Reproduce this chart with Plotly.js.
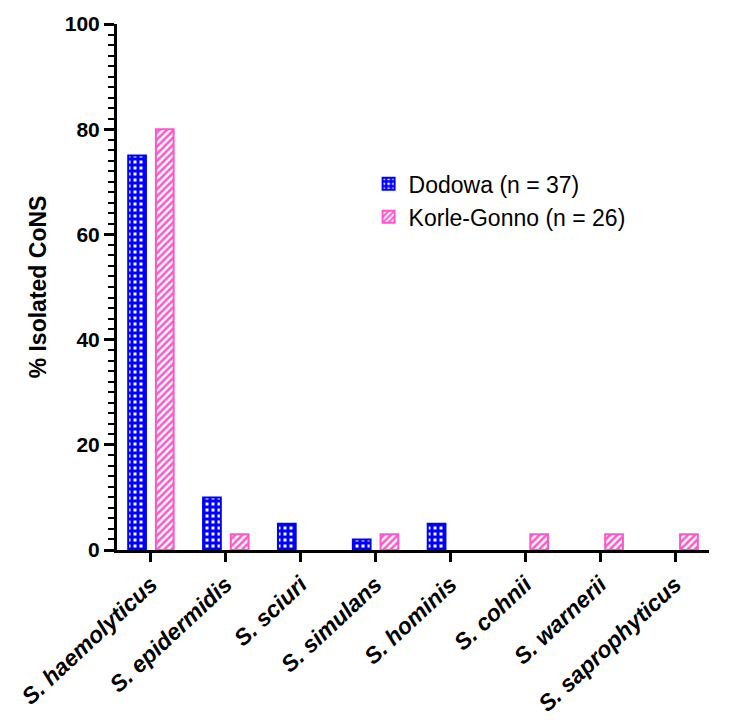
<!DOCTYPE html>
<html>
<head>
<meta charset="utf-8">
<script src="https://cdn.plot.ly/plotly-3.0.1.min.js"></script>
<style>
  html, body { margin: 0; padding: 0; background: #fff; }
  #chart { width: 734px; height: 722px; }
</style>
</head>
<body>
<div id="chart"></div>
<script>
const species = ["S. haemolyticus", "S. epidermidis", "S. sciuri", "S. simulans", "S. hominis", "S. cohnii", "S. warnerii", "S. saprophyticus"]
const dodowa = [75, 10, 5, 2, 5, 0, 0, 0]
const korleGonno = [80, 3, 0, 3, 0, 3, 3, 3]
const seriesNames = ["Dodowa (n = 37)", "Korle-Gonno (n = 26)"]

const labels = species.map(s => `<b><i>${s}</i></b>`)
const FONT = 'Liberation Sans, Arial, sans-serif'

// zero bars would otherwise leave a stray outline on the axis
const outlineWidths = vals => vals.map(v => v > 0 ? 2 : 0)

const dodowaTrace = {
    type: 'bar',
    name: seriesNames[0],
    x: labels,
    y: dodowa,
    marker: {
        color: '#ffffff',
        line: { color: '#0000ff', width: outlineWidths(dodowa) },
        pattern: { shape: '+', fgcolor: '#0000ff', bgcolor: '#ffffff', size: 6, solidity: 0.75 }
    },
    hoverinfo: 'none'
};

const korleTrace = {
    type: 'bar',
    name: seriesNames[1],
    x: labels,
    y: korleGonno,
    marker: {
        color: '#ffffff',
        line: { color: '#ff55cc', width: outlineWidths(korleGonno) },
        pattern: { shape: '/', fgcolor: '#ff55cc', bgcolor: '#ffffff', size: 5, solidity: 0.5 }
    },
    hoverinfo: 'none'
};

var layout = {
    width: 734,
    height: 722,
    margin: { l: 117, r: 25, t: 24, b: 172 },
    paper_bgcolor: '#ffffff',
    plot_bgcolor: '#ffffff',
    barmode: 'group',
    bargap: 0.26,
    bargroupgap: 0.36,
    showlegend: true,
    legend: {
        x: 0.425,
        y: 0.737,
        xanchor: 'left',
        yanchor: 'top',
        font: { family: FONT, size: 23, color: '#000' },
        bgcolor: 'rgba(0,0,0,0)'
    },
    font: { family: FONT, color: '#000' },
    xaxis: {
        type: 'category',
        range: [-0.453, 7.453],
        automargin: false,
        showline: true,
        linecolor: '#000',
        linewidth: 3,
        ticks: 'outside',
        ticklen: 9,
        tickwidth: 3,
        tickcolor: '#000',
        tickangle: -43,
        tickfont: { size: 23, family: FONT, color: '#000' },
        showgrid: false,
        zeroline: false,
        fixedrange: true
    },
    yaxis: {
        range: [0, 100],
        dtick: 20,
        automargin: false,
        showline: true,
        linecolor: '#000',
        linewidth: 3,
        ticks: 'outside',
        ticklen: 10,
        tickwidth: 3,
        tickcolor: '#000',
        tickfont: { size: 21, family: FONT, color: '#000', weight: 'bold' },
        minor: { dtick: 2, ticks: 'outside', ticklen: 6, tickwidth: 2, tickcolor: '#000', showgrid: false },
        showgrid: false,
        zeroline: false,
        title: {
            text: '<b>% Isolated CoNS</b>',
            font: { size: 23, family: FONT, color: '#000' },
            standoff: 12
        },
        fixedrange: true
    }
};

Plotly.newPlot('chart', [dodowaTrace, korleTrace], layout, { displayModeBar: false, staticPlot: true });
</script>
</body>
</html>
